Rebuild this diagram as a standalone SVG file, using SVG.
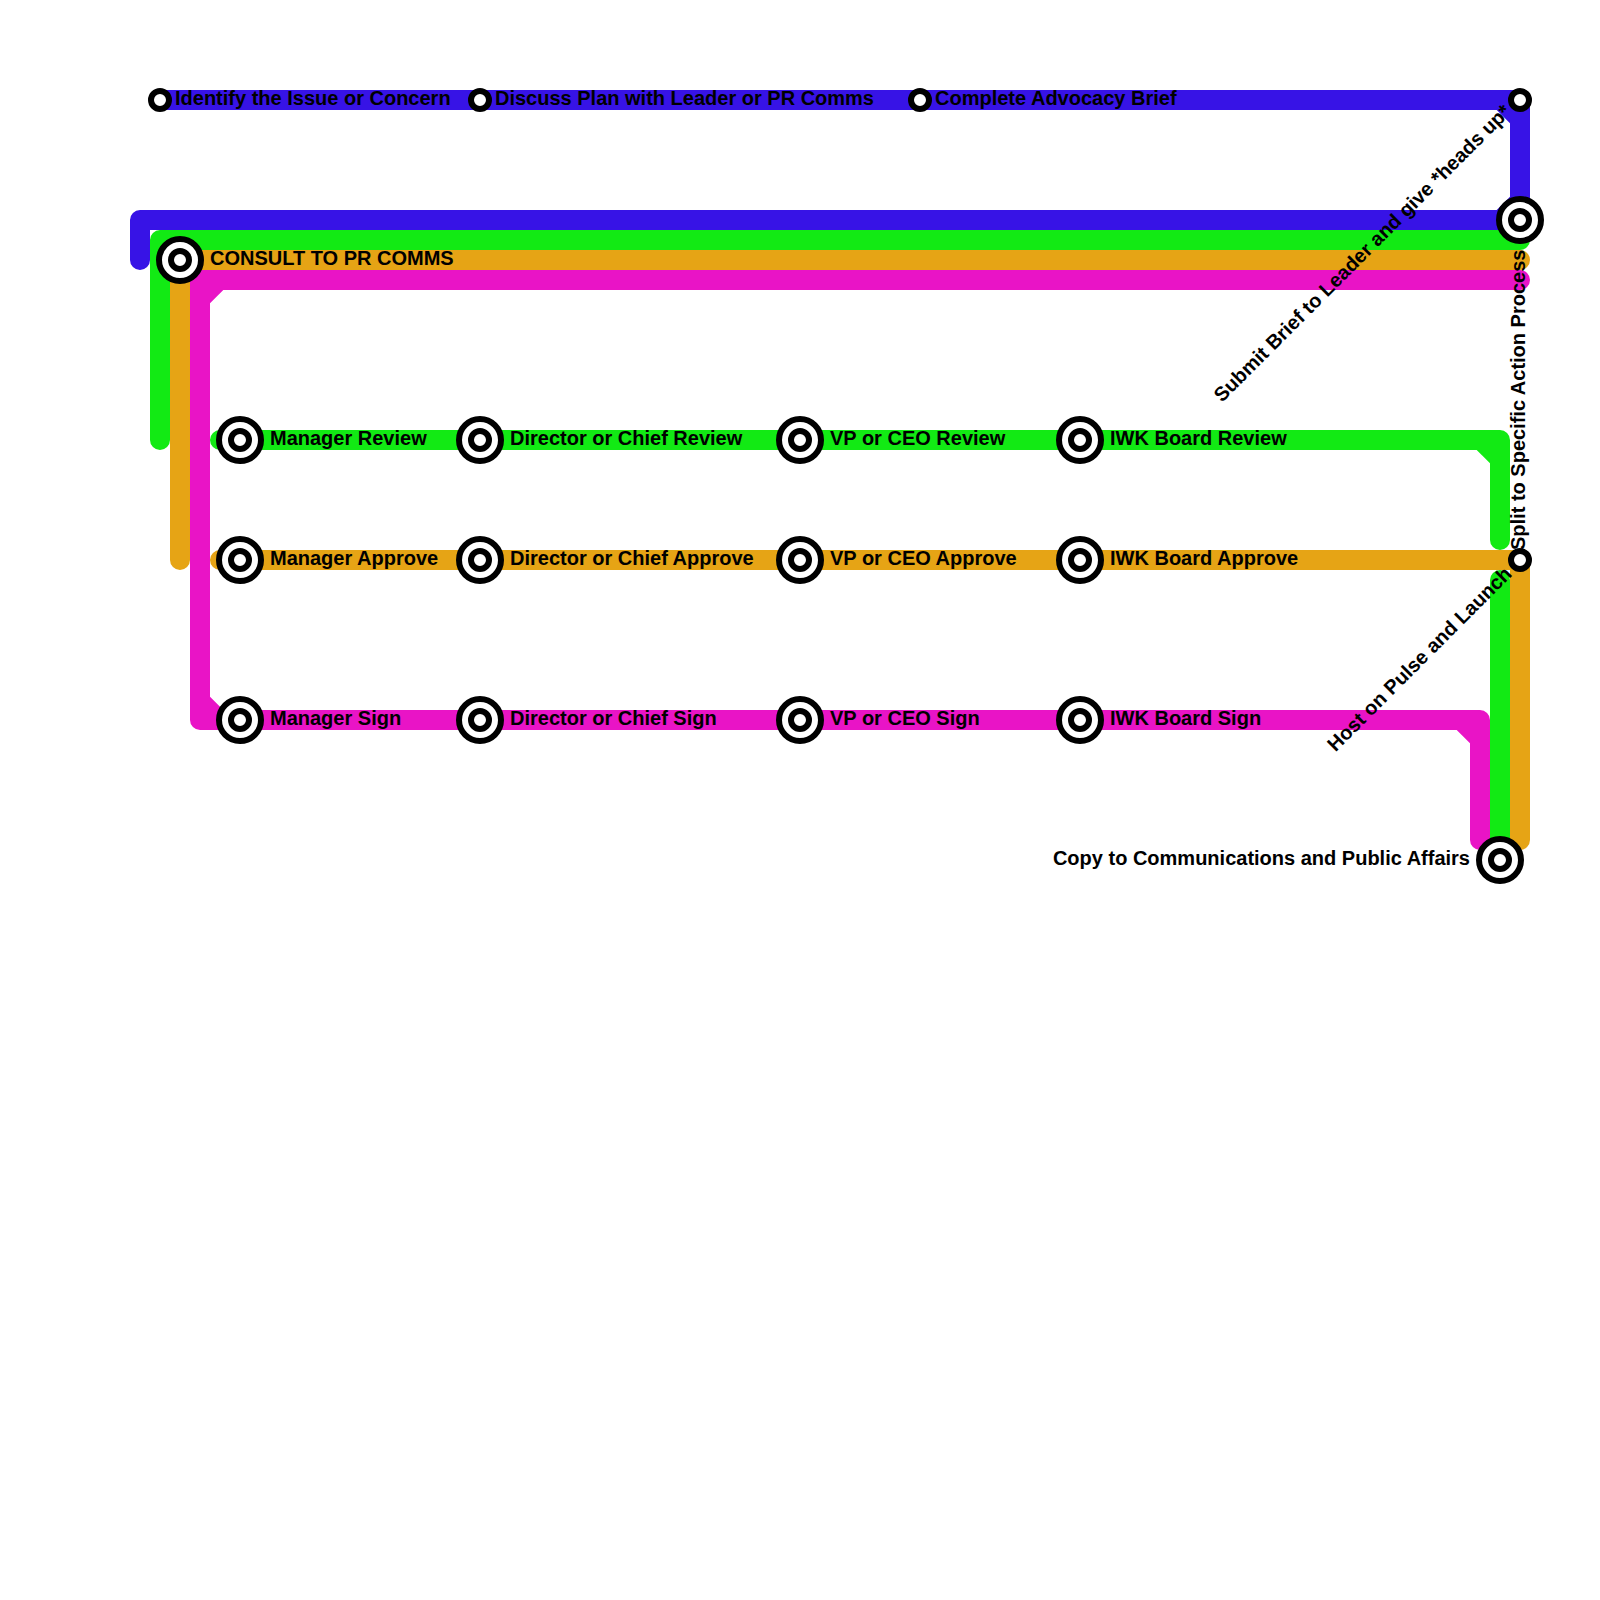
<svg xmlns="http://www.w3.org/2000/svg" width="1600" height="1600" viewBox="0 0 1600 1600">
<style>
.l{fill:none;stroke-width:20;stroke-linecap:round;stroke-linejoin:round}
.b{stroke:#3713e6}.g{stroke:#12ea14}.o{stroke:#e6a415}.m{stroke:#e914c6}
.fb{fill:#3713e6}.fg{fill:#12ea14}.fm{fill:#e914c6}
.r{fill:#fff;stroke:#000;stroke-width:6}
text{font-family:"Liberation Sans",Arial,sans-serif;font-weight:bold;font-size:20px;fill:#000}
</style>
<defs>
<g id="big"><circle r="21" class="r"/><circle r="9" class="r"/></g>
<circle id="small" r="9" class="r"/>
</defs>
<rect width="1600" height="1600" fill="#fff"/>
<g id="connectors">
<path class="l b" d="M160 100H1520V220H140V260"/>
<path class="fb" d="M1496.7 110H1510V123.3ZM1510 196.7V210H1496.7Z"/>
<path class="l g" d="M160 440V240H1520"/>
<path class="l g" d="M220 440H1500V540"/>
<path class="fg" d="M1476.7 450H1490V463.3Z"/>
<path class="l g" d="M1500 580V860"/>
<path class="l o" d="M180 560V260H1520"/>
<path class="l o" d="M220 560H1520V840"/>
<path class="l m" d="M1520 280H200V720H1480V840"/>
<path class="fm" d="M210 303.3V290H223.3ZM210 696.7V710H223.3ZM1456.7 730H1470V743.3Z"/>
</g>
<g id="n1"><use href="#small" x="160" y="100"/><text x="175" y="105">Identify the Issue or Concern</text></g>
<g id="n2"><use href="#small" x="480" y="100"/><text x="495" y="105">Discuss Plan with Leader or PR Comms</text></g>
<g id="n3"><use href="#small" x="920" y="100"/><text x="935" y="105">Complete Advocacy Brief</text></g>
<g id="n4"><use href="#small" x="1520" y="100"/><text transform="translate(1512 113) rotate(-45)" text-anchor="end">Submit Brief to Leader and give *heads up*</text></g>
<g id="n5"><use href="#big" x="1520" y="220"/></g>
<g id="n6"><use href="#big" x="180" y="260"/><text x="210" y="265">CONSULT TO PR COMMS</text></g>
<g id="n7"><use href="#big" x="240" y="440"/><text x="270" y="445">Manager Review</text></g>
<g id="n8"><use href="#big" x="480" y="440"/><text x="510" y="445">Director or Chief Review</text></g>
<g id="n9"><use href="#big" x="800" y="440"/><text x="830" y="445">VP or CEO Review</text></g>
<g id="n10"><use href="#big" x="1080" y="440"/><text x="1110" y="445">IWK Board Review</text></g>
<g id="n11"><use href="#big" x="240" y="560"/><text x="270" y="565">Manager Approve</text></g>
<g id="n12"><use href="#big" x="480" y="560"/><text x="510" y="565">Director or Chief Approve</text></g>
<g id="n13"><use href="#big" x="800" y="560"/><text x="830" y="565">VP or CEO Approve</text></g>
<g id="n14"><use href="#big" x="1080" y="560"/><text x="1110" y="565">IWK Board Approve</text></g>
<g id="n15"><use href="#big" x="240" y="720"/><text x="270" y="725">Manager Sign</text></g>
<g id="n16"><use href="#big" x="480" y="720"/><text x="510" y="725">Director or Chief Sign</text></g>
<g id="n17"><use href="#big" x="800" y="720"/><text x="830" y="725">VP or CEO Sign</text></g>
<g id="n18"><use href="#big" x="1080" y="720"/><text x="1110" y="725">IWK Board Sign</text></g>
<g id="n19"><use href="#small" x="1520" y="560"/><text transform="translate(1525 550) rotate(-90)">Split to Specific Action Process</text><text transform="translate(1513 575) rotate(-45)" text-anchor="end">Host on Pulse and Launch</text></g>
<g id="n20"><use href="#big" x="1500" y="860"/><text x="1470" y="865" text-anchor="end">Copy to Communications and Public Affairs</text></g>
</svg>
